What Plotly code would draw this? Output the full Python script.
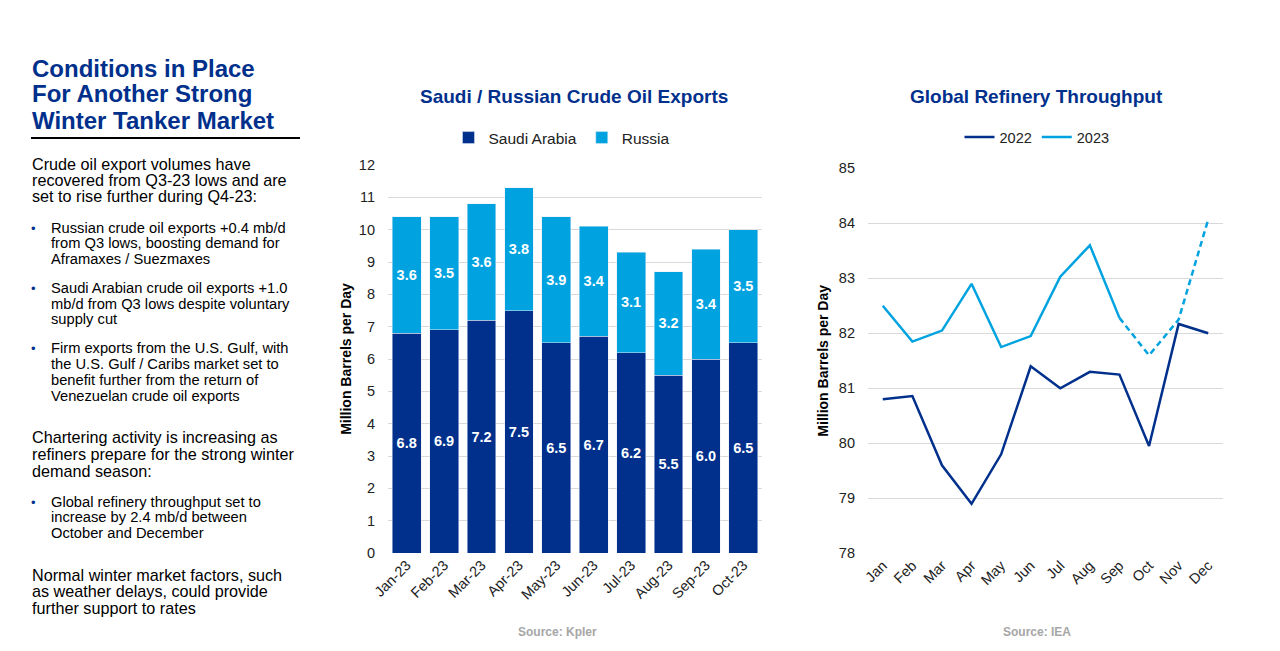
import plotly.graph_objects as go

FONT = "Liberation Sans, Arial, sans-serif"
NAVY = "#00308C"
SKY = "#00A3E0"
GRID = "#D9D9D9"

# --- bar chart data (Kpler) ---
EXPORT_MONTHS = ["Jan-23", "Feb-23", "Mar-23", "Apr-23", "May-23",
                 "Jun-23", "Jul-23", "Aug-23", "Sep-23", "Oct-23"]
SAUDI = [6.8, 6.9, 7.2, 7.5, 6.5, 6.7, 6.2, 5.5, 6.0, 6.5]
RUSSIA = [3.6, 3.5, 3.6, 3.8, 3.9, 3.4, 3.1, 3.2, 3.4, 3.5]

# --- line chart data (IEA) ---
MONTHS = ["Jan", "Feb", "Mar", "Apr", "May", "Jun",
          "Jul", "Aug", "Sep", "Oct", "Nov", "Dec"]
THRU_2022 = [80.8, 80.86, 79.6, 78.9, 79.8, 81.4, 81.0, 81.3, 81.25, 79.95, 82.17, 82.0]
THRU_2023 = [82.5, 81.85, 82.05, 82.9, 81.75, 81.95, 83.03, 83.6, 82.28, 81.6, 82.25, 84.07]
FORECAST_FROM = 8  # Sep onwards is dashed

W, H = 1280, 651
PAGE_PAD = 8  # page body margin shifts the figure by 8px


def px_x(x):
    return (x - PAGE_PAD) / W


def px_y(y):
    return 1 - (y - PAGE_PAD) / H


fig = go.Figure()

bar_text = dict(family=FONT, size=14.5, color="white", weight="bold")
fig.add_trace(go.Bar(
    x=EXPORT_MONTHS, y=SAUDI, name="Saudi Arabia", marker_color=NAVY,
    texttemplate="%{y:.1f}", textposition="inside", insidetextanchor="middle",
    constraintext="none", textangle=0, textfont=bar_text,
    xaxis="x", yaxis="y", legend="legend",
))
fig.add_trace(go.Bar(
    x=EXPORT_MONTHS, y=RUSSIA, name="Russia", marker_color=SKY,
    texttemplate="%{y:.1f}", textposition="inside", insidetextanchor="middle",
    constraintext="none", textangle=0, textfont=bar_text,
    xaxis="x", yaxis="y", legend="legend",
))

fig.add_trace(go.Scatter(
    x=MONTHS, y=THRU_2022, name="2022", mode="lines",
    line=dict(color=NAVY, width=2.5), xaxis="x2", yaxis="y2", legend="legend2",
))
fig.add_trace(go.Scatter(
    x=MONTHS[:FORECAST_FROM + 1], y=THRU_2023[:FORECAST_FROM + 1], name="2023", mode="lines",
    line=dict(color=SKY, width=2.5), xaxis="x2", yaxis="y2", legend="legend2",
))
fig.add_trace(go.Scatter(
    x=MONTHS[FORECAST_FROM:], y=THRU_2023[FORECAST_FROM:], name="2023 (forecast)", mode="lines",
    line=dict(color=SKY, width=2.5, dash="6px,4px"), xaxis="x2", yaxis="y2",
    legend="legend2", showlegend=False,
))

tick_font = dict(family=FONT, size=14.5, color="#222")
axis_title_font = dict(family=FONT, size=14, color="black", weight="bold")

fig.update_layout(
    width=W, height=H,
    margin=dict(l=0, r=0, t=0, b=0, autoexpand=False),
    paper_bgcolor="white", plot_bgcolor="white",
    font=dict(family=FONT, color="#222"),
    barmode="stack", bargap=0.23,
    xaxis=dict(domain=[px_x(388), px_x(762)], anchor="y", tickangle=-45,
               tickfont=tick_font, showgrid=False, ticks="", automargin=False),
    yaxis=dict(domain=[px_y(553), px_y(165)], anchor="x", range=[0, 12], dtick=1,
               tickfont=tick_font, gridcolor=GRID, zeroline=False, automargin=False,
               ticklabelstandoff=12,
               title=dict(text="Million Barrels per Day", font=axis_title_font, standoff=3)),
    xaxis2=dict(domain=[px_x(868), px_x(1223)], anchor="y2", tickangle=-45,
                tickfont=tick_font, showgrid=False, ticks="", range=[-0.5, 11.5],
                automargin=False),
    yaxis2=dict(domain=[px_y(553.3), px_y(168.3)], anchor="x2", range=[78, 85], dtick=1,
                tickfont=tick_font, gridcolor=GRID, zeroline=False, automargin=False,
                ticklabelstandoff=12,
                title=dict(text="Million Barrels per Day", font=axis_title_font, standoff=6)),
    legend=dict(orientation="h", x=px_x(562), y=px_y(138), xanchor="center", yanchor="middle",
                font=dict(family=FONT, size=15.5, color="#222"), traceorder="normal",
                itemwidth=30, bgcolor="rgba(0,0,0,0)"),
    legend2=dict(orientation="h", x=px_x(1037), y=px_y(137), xanchor="center", yanchor="middle",
                 font=dict(family=FONT, size=14.5, color="#222"),
                 itemwidth=30, bgcolor="rgba(0,0,0,0)"),
)

annotations = [
    dict(text="<b>Saudi / Russian Crude Oil Exports</b>", x=px_x(574), y=px_y(96),
         font=dict(family=FONT, size=19, color=NAVY)),
    dict(text="<b>Global Refinery Throughput</b>", x=px_x(1036), y=px_y(96),
         font=dict(family=FONT, size=19, color=NAVY)),
    dict(text="<b>Source: Kpler</b>", x=px_x(557), y=px_y(632),
         font=dict(family=FONT, size=12, color="#A6A6A6")),
    dict(text="<b>Source: IEA</b>", x=px_x(1037), y=px_y(632),
         font=dict(family=FONT, size=12, color="#A6A6A6")),
]

# left-hand commentary panel
TITLE_LINES = ["Conditions in Place", "For Another Strong", "Winter Tanker Market"]
for line, yy in zip(TITLE_LINES, [68, 94, 120]):
    annotations.append(dict(text=f"<b>{line}</b>", x=px_x(30), y=px_y(yy), xanchor="left",
                            font=dict(family=FONT, size=24, color=NAVY)))

PARAGRAPHS = [
    (["Crude oil export volumes have", "recovered from Q3-23 lows and are",
      "set to rise further during Q4-23:"], [164, 180, 196]),
    (["Chartering activity is increasing as", "refiners prepare for the strong winter",
      "demand season:"], [437, 454, 471]),
    (["Normal winter market factors, such", "as weather delays, could provide",
      "further support to rates"], [575, 591, 608]),
]
for lines, ys in PARAGRAPHS:
    for line, yy in zip(lines, ys):
        annotations.append(dict(text=line, x=px_x(30), y=px_y(yy), xanchor="left",
                                font=dict(family=FONT, size=16.2, color="black")))

BULLETS = [
    (["Russian crude oil exports +0.4 mb/d", "from Q3 lows, boosting demand for",
      "Aframaxes / Suezmaxes"], [228, 243, 259]),
    (["Saudi Arabian crude oil exports +1.0", "mb/d from Q3 lows despite voluntary",
      "supply cut"], [288, 304, 319]),
    (["Firm exports from the U.S. Gulf, with", "the U.S. Gulf / Caribs market set to",
      "benefit further from the return of", "Venezuelan crude oil exports"],
     [348, 364, 380, 396]),
    (["Global refinery throughput set to", "increase by 2.4 mb/d between",
      "October and December"], [502, 517, 533]),
]
for lines, ys in BULLETS:
    annotations.append(dict(text="•", x=px_x(29), y=px_y(ys[0]), xanchor="left",
                            font=dict(family=FONT, size=13, color=NAVY)))
    for line, yy in zip(lines, ys):
        annotations.append(dict(text=line, x=px_x(49), y=px_y(yy), xanchor="left",
                                font=dict(family=FONT, size=14.7, color="black")))

for a in annotations:
    a.setdefault("xref", "paper")
    a.setdefault("yref", "paper")
    a.setdefault("showarrow", False)
    a.setdefault("xanchor", "center")
    a.setdefault("yanchor", "middle")

fig.update_layout(
    annotations=annotations,
    shapes=[dict(type="line", xref="paper", yref="paper",
                 x0=px_x(31), x1=px_x(300), y0=px_y(138), y1=px_y(138),
                 line=dict(color="black", width=2))],
)

fig.write_html("out.html")
